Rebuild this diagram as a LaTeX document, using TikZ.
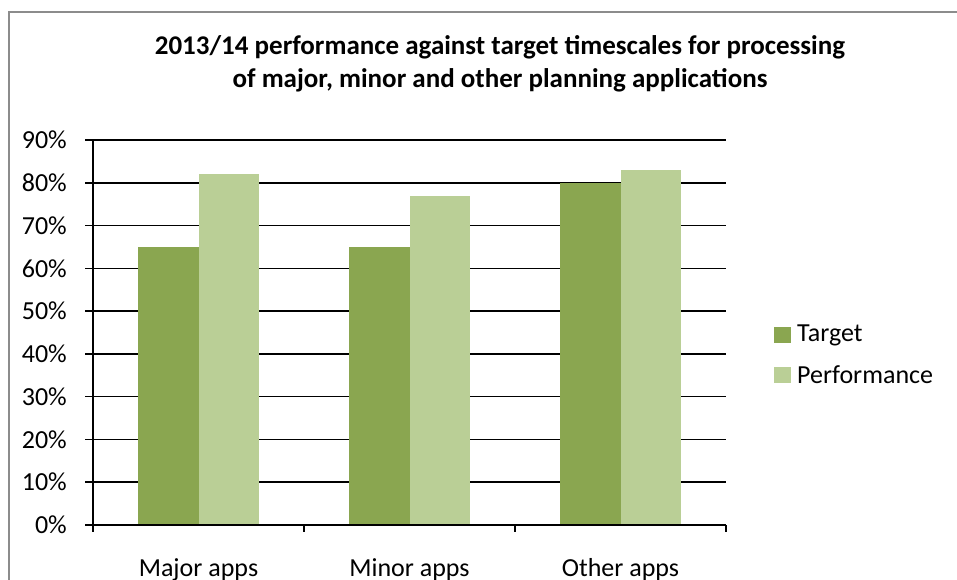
\documentclass[tikz,border=0pt]{standalone}
\usepackage{fontspec}
\setmainfont{Carlito}
\definecolor{tgt}{HTML}{8AA650}
\definecolor{perf}{HTML}{BACF96}
\definecolor{frame}{HTML}{8C8C8C}
\begin{document}
\begin{tikzpicture}[x=1bp,y=-1bp,
  gridline/.style={black, line width=1.6bp},
  axisline/.style={black, line width=1.6bp},
  tgtbar/.style={fill=tgt},
  perfbar/.style={fill=perf},
  ylab/.style={anchor=east, font=\fontsize{26bp}{30bp}\selectfont, inner sep=0pt},
  catlab/.style={anchor=base, font=\fontsize{26bp}{30bp}\selectfont, inner sep=0pt},
  titlelab/.style={anchor=base, font=\fontsize{27bp}{31bp}\selectfont\bfseries, inner sep=0pt},
  leglab/.style={anchor=west, font=\fontsize{26bp}{30bp}\selectfont, inner sep=0pt}]
\useasboundingbox (0,0) rectangle (957,580);
\fill[white] (0,0) rectangle (957,580);
\draw[frame, line width=1.5bp] (9,581) -- (9,12) -- (958,12);
% title
\node[titlelab] (t1) at (500,55) {2013/14 performance against target timescales for processing};
\node[titlelab] (t2) at (500,88) {of major, minor and other planning applications};
% gridlines and y labels
\foreach \v in {1,...,9} {
  \draw[gridline] (85,{525-42.78*\v}) -- (726,{525-42.78*\v});
}
\node[ylab] (y0) at (67,525) {0\%};
\foreach \v in {1,...,9} {
  \node[ylab] (y\v) at (67,{525-42.78*\v}) {\v0\%};
}
% bars
\def\bw{60.5}
\foreach \c/\tv/\pv [count=\i] in {198.5/65/82, 409.5/65/77, 620.5/80/83} {
  \fill[tgtbar] ({\c-\bw},525) rectangle (\c,{525-4.278*\tv});
  \fill[perfbar] (\c,525) rectangle ({\c+\bw},{525-4.278*\pv});
}
% axes
\draw[axisline] (85,525) -- (726,525);
\draw[axisline] (93,140) -- (93,532);
\foreach \x in {304,515,726} \draw[axisline] (\x,525) -- (\x,532);
% category labels
\node[catlab] (c1) at (198.5,576) {Major apps};
\node[catlab] (c2) at (409.5,576) {Minor apps};
\node[catlab] (c3) at (620.5,576) {Other apps};
% legend
\fill[tgt] (774,327) rectangle (791,343);
\fill[perf] (774,367) rectangle (791,383);
\node[leglab] (l1) at (797,335) {Target};
\node[leglab] (l2) at (797,375) {Performance};
\end{tikzpicture}
\end{document}
